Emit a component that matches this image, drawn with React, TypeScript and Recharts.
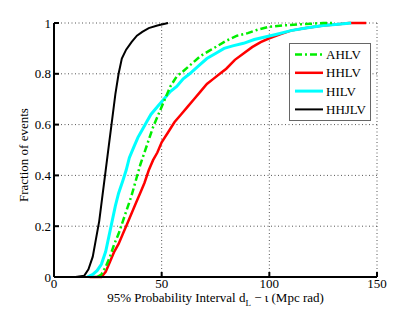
import React from "react";
import { LineChart, Line, XAxis, YAxis, CartesianGrid, Legend } from "recharts";

// x = 95% interval (Mpc rad), y = cumulative fraction of events
const hhjlvX = [10, 14, 16, 18, 19.5, 21, 22.5, 24, 25.5, 27, 28.5, 30, 31.5, 33.5, 36, 38.5, 41, 44, 48, 53];
const hhjlvY = [0, 0.005, 0.03, 0.08, 0.15, 0.22, 0.32, 0.42, 0.52, 0.62, 0.72, 0.8, 0.86, 0.895, 0.925, 0.95, 0.965, 0.98, 0.99, 1];

const hilvX = [15.5, 18, 20, 22, 24, 25.5, 27, 28.5, 30, 32, 33.5, 35, 37, 39, 41, 43, 45, 48, 51, 54, 57, 60, 63, 67, 71, 75, 79, 83, 88, 93, 98, 103, 110, 117, 125, 132, 138];
const hilvY = [0, 0.01, 0.025, 0.05, 0.1, 0.16, 0.22, 0.28, 0.33, 0.38, 0.42, 0.47, 0.51, 0.55, 0.58, 0.61, 0.64, 0.67, 0.7, 0.73, 0.75, 0.78, 0.8, 0.83, 0.86, 0.88, 0.9, 0.91, 0.92, 0.935, 0.945, 0.955, 0.97, 0.98, 0.99, 0.995, 1];

const ahlvX = [20, 22, 24, 26, 28, 30, 32, 34, 36, 38, 40, 42, 44, 46, 48, 50, 52, 54, 57, 60, 64, 68, 72, 76, 80, 85, 90, 95, 100, 106, 115, 125, 130];
const ahlvY = [0, 0.01, 0.04, 0.08, 0.13, 0.17, 0.22, 0.27, 0.32, 0.38, 0.44, 0.49, 0.54, 0.59, 0.63, 0.67, 0.71, 0.75, 0.79, 0.81, 0.84, 0.87, 0.89, 0.91, 0.93, 0.95, 0.96, 0.975, 0.985, 0.99, 0.995, 1, 1];

const hhlvX = [16.5, 22, 24, 26, 28, 30, 32, 34, 36, 38, 40, 42, 44, 46, 48, 50, 53, 56, 59, 62, 65, 68, 71, 74, 77, 80, 84, 88, 92, 96, 100, 105, 110, 117, 125, 132, 137, 145];
const hhlvY = [0, 0, 0.02, 0.06, 0.1, 0.13, 0.17, 0.21, 0.25, 0.29, 0.33, 0.37, 0.42, 0.46, 0.49, 0.53, 0.57, 0.61, 0.64, 0.67, 0.7, 0.73, 0.76, 0.78, 0.8, 0.82, 0.855, 0.88, 0.905, 0.925, 0.94, 0.955, 0.97, 0.98, 0.99, 0.995, 1, 1];

const xTicks = [0, 50, 100, 150];
const yTicks = [0, 0.2, 0.4, 0.6, 0.8, 1];

const toPts = (xs: number[], ys: number[]) => xs.map((x, i) => ({ x, y: ys[i] }));

const series = [
  { name: "AHLV", data: toPts(ahlvX, ahlvY), color: "#00ee00", width: 2.5, dash: "7 3 2 3" },
  { name: "HHLV", data: toPts(hhlvX, hhlvY), color: "#ff0000", width: 2.5, dash: undefined },
  { name: "HILV", data: toPts(hilvX, hilvY), color: "#00ffff", width: 3, dash: undefined },
  { name: "HHJLV", data: toPts(hhjlvX, hhjlvY), color: "#000000", width: 2, dash: undefined },
];
// keep the dash-dot green on top of cyan
const drawOrder = ["HHJLV", "HHLV", "HILV", "AHLV"];

const font = "Liberation Serif, Times New Roman, serif";
const txt = { fontFamily: font, fontSize: 13, fill: "#000" };

const LegendBox = () => (
  <svg width={82} height={78} style={{ display: "block" }}>
    <rect x={0.5} y={0.5} width={81} height={77} fill="#fff" stroke="#666" strokeWidth={1} />
    {series.map((s, i) => (
      <g key={s.name}>
        <line x1={6} x2={34} y1={11.5 + i * 18.3} y2={11.5 + i * 18.3} stroke={s.color}
          strokeWidth={s.width} strokeDasharray={s.dash} />
        <text x={37} y={16 + i * 18.3} style={txt}>{s.name}</text>
      </g>
    ))}
  </svg>
);

const XLabel = () => (
  <text x={215.5} y={302} textAnchor="middle" style={txt}>
    95% Probability Interval d<tspan fontSize={9} dy={4}>L</tspan><tspan dy={-4}> − ι (Mpc rad)</tspan>
  </text>
);

export default function App() {
  return (
    <div style={{ position: "absolute", left: 0, top: 0, width: 415, height: 312, background: "#fff", fontFamily: font }}>
      <LineChart width={415} height={312} margin={{ top: 23, right: 38, left: 0, bottom: 0 }} style={{ fontFamily: font }}>
        <CartesianGrid stroke="#555" strokeDasharray="1 2.5" horizontalValues={yTicks} verticalValues={xTicks} />
        <XAxis xAxisId="top" orientation="top" type="number" dataKey="x" domain={[0, 150]} ticks={xTicks}
          height={0} tickSize={-5} tickFormatter={() => ""} stroke="#000" strokeWidth={2} />
        <YAxis yAxisId="right" orientation="right" type="number" domain={[0, 1]} ticks={yTicks}
          width={0} tickSize={-5} tickFormatter={() => ""} stroke="#000" strokeWidth={2} />
        <XAxis type="number" dataKey="x" domain={[0, 150]} ticks={xTicks} height={35}
          tickSize={-5} tickMargin={7} stroke="#000" strokeWidth={2}
          tick={{ ...txt, style: txt }} label={<XLabel />} />
        <YAxis type="number" dataKey="y" domain={[0, 1]} ticks={yTicks} width={54}
          tickSize={-5} tickMargin={8} stroke="#000" strokeWidth={2}
          tick={{ ...txt, style: txt }}
          label={{ value: "Fraction of events", angle: -90, position: "insideLeft", dx: 18, dy: 52, style: txt }} />
        {drawOrder.map((n) => {
          const s = series.find((q) => q.name === n)!;
          return (
            <Line key={s.name} data={s.data} dataKey="y" name={s.name} type="linear" stroke={s.color}
              strokeWidth={s.width} strokeDasharray={s.dash} dot={false} isAnimationActive={false} />
          );
        })}
        <Legend layout="horizontal" verticalAlign="middle" align="center" content={<LegendBox />}
          wrapperStyle={{ left: 289, top: 43, width: 82, height: 78 }} />
      </LineChart>
    </div>
  );
}
